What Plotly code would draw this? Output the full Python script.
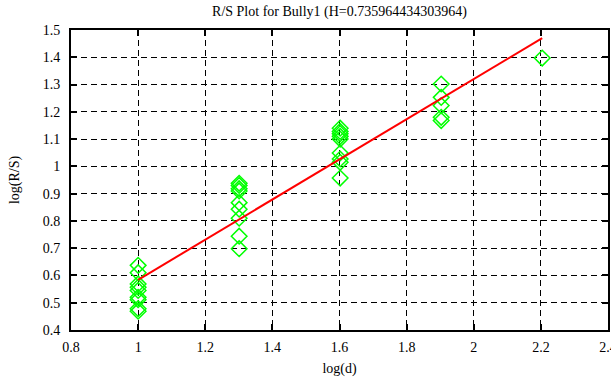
import plotly.graph_objects as go

# Data
x_1 = [1.0] * 9
y_1 = [0.637, 0.61, 0.569, 0.557, 0.545, 0.52, 0.511, 0.478, 0.469]
x_2 = [1.301] * 9
y_2 = [0.938, 0.93, 0.918, 0.91, 0.867, 0.843, 0.81, 0.744, 0.698]
x_3 = [1.602] * 9
y_3 = [1.14, 1.128, 1.12, 1.11, 1.10, 1.049, 1.027, 1.015, 0.957]
x_4 = [1.903] * 5
y_4 = [1.302, 1.253, 1.223, 1.18, 1.168]
x_5 = [2.204]
y_5 = [1.397]

H = 0.735964434303964
intercept = -0.152

xs = x_1 + x_2 + x_3 + x_4 + x_5
ys = y_1 + y_2 + y_3 + y_4 + y_5

line_x = [min(xs), max(xs)]
line_y = [H * v + intercept for v in line_x]

font_family = "Liberation Serif"

fig = go.Figure()
fig.add_trace(go.Scatter(
    x=xs, y=ys, mode="markers",
    marker=dict(symbol="diamond-open", size=12, color="#00ff00",
                line=dict(color="#00ff00", width=1.5)),
    showlegend=False, cliponaxis=False,
))
fig.add_trace(go.Scatter(
    x=line_x, y=line_y, mode="lines",
    line=dict(color="#ff0000", width=2),
    showlegend=False,
))

axis_common = dict(
    showline=True, linecolor="black", linewidth=2, mirror="ticks",
    ticks="inside", ticklen=6, tickwidth=1.5, tickcolor="black",
    showgrid=True, gridcolor="black", gridwidth=1, griddash="6px,4px",
    zeroline=False, automargin=False, ticklabeloverflow="allow",
    tickfont=dict(family=font_family, size=14, color="black"),
)

fig.update_layout(
    width=611, height=385,
    margin=dict(l=71, r=3, t=30, b=55),
    paper_bgcolor="white", plot_bgcolor="white",
    title=dict(text="R/S Plot for Bully1 (H=0.735964434303964)",
               x=(71 + 608) / 2 / 611, xanchor="center", y=1 - 11 / 385, yanchor="middle",
               font=dict(family=font_family, size=14, color="black")),
    xaxis=dict(range=[0.8, 2.4], dtick=0.2, tick0=0.8, ticklabelstandoff=3,
               title=dict(text="log(d)", standoff=9,
                          font=dict(family=font_family, size=14, color="black")),
               **axis_common),
    yaxis=dict(range=[0.4, 1.5], dtick=0.1, tick0=0.4, ticklabelstandoff=6,
               title=dict(text="log(R/S)", standoff=20,
                          font=dict(family=font_family, size=14, color="black")),
               **axis_common),
)

fig.write_html(
    "out.html",
    config={"displayModeBar": False},
    post_script="document.body.style.margin='0';document.body.style.overflow='hidden';",
)
